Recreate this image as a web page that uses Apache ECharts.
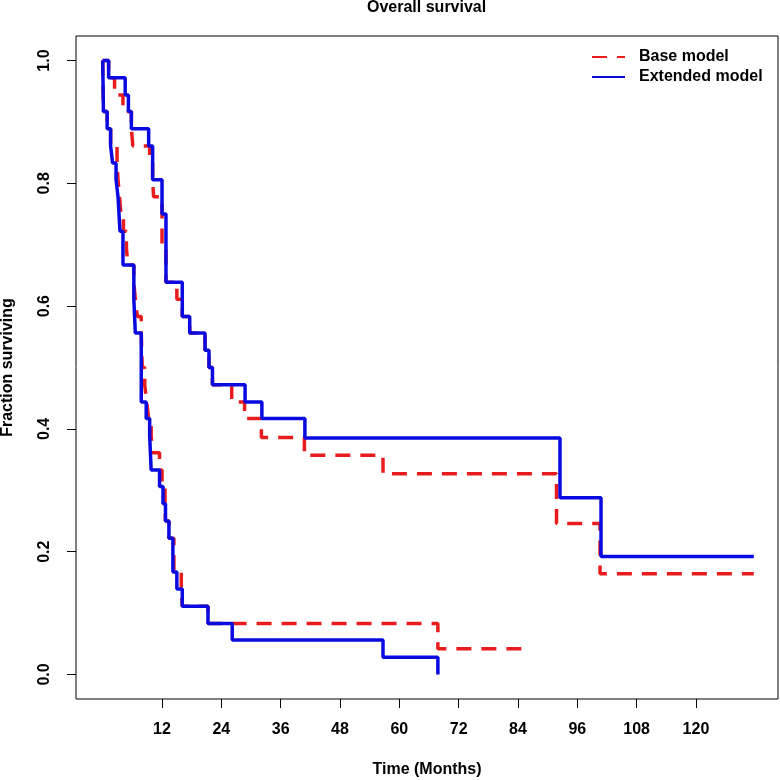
<!DOCTYPE html>
<html>
<head>
<meta charset="utf-8">
<script src="https://cdn.jsdelivr.net/npm/echarts@6/dist/echarts.min.js"></script>
<style>html,body{margin:0;padding:0;background:#fff}#c{width:780px;height:780px}</style>
</head>
<body>
<div id="c"></div>
<script>
// ---- data (months, fraction surviving) ----
var upperBaseT = [0, 1.2, 2.4, 4.1, 5.8, 6.1, 9.5, 10.1, 10.3, 12.0, 12.8, 15.0, 16.1, 17.6, 20.7, 21.5, 22.2, 26.1, 28.7, 32.1, 40.8, 56.7, 91.8, 100.6, 131.7];
var upperBaseS = [1.0, 0.972, 0.944, 0.917, 0.889, 0.861, 0.833, 0.806, 0.778, 0.694, 0.639, 0.611, 0.583, 0.556, 0.528, 0.5, 0.472, 0.444, 0.417, 0.386, 0.357, 0.327, 0.246, 0.164, 0.164];

var upperExtT = [0, 1.2, 4.55, 5.2, 5.8, 9.3, 10.1, 12.0, 12.8, 16.1, 17.6, 20.7, 21.5, 22.2, 28.8, 32.2, 40.9, 92.5, 100.8, 131.7];
var upperExtS = [1.0, 0.972, 0.944, 0.917, 0.889, 0.861, 0.806, 0.75, 0.639, 0.583, 0.556, 0.528, 0.5, 0.472, 0.444, 0.417, 0.385, 0.288, 0.192, 0.192];

var lowerBaseT = [0, 0.15, 0.9, 1.6, 2.9, 3.1, 3.4, 3.7, 4.2, 4.8, 5.1, 6.3, 6.6, 7.0, 7.8, 8.0, 8.5, 8.9, 9.3, 9.8, 10.1, 11.5, 12.0, 12.6, 12.7, 13.4, 14.4, 15.9, 16.1, 21.3, 67.8, 86.7];
var lowerBaseS = [1.0, 0.917, 0.889, 0.861, 0.833, 0.806, 0.778, 0.75, 0.722, 0.694, 0.667, 0.639, 0.611, 0.583, 0.556, 0.5, 0.472, 0.444, 0.417, 0.389, 0.361, 0.333, 0.306, 0.278, 0.25, 0.222, 0.167, 0.139, 0.111, 0.083, 0.042, 0.042];

var lowerExtT = [0, 0.15, 0.9, 1.6, 2.0, 2.7, 3.1, 3.5, 4.1, 6.3, 6.6, 7.8, 8.8, 9.5, 9.8, 11.5, 12.2, 12.7, 13.4, 14.2, 15.0, 16.1, 21.3, 26.2, 56.7, 67.8];
var lowerExtS = [1.0, 0.917, 0.889, 0.861, 0.833, 0.806, 0.778, 0.722, 0.667, 0.611, 0.556, 0.444, 0.417, 0.389, 0.333, 0.306, 0.278, 0.25, 0.222, 0.167, 0.139, 0.111, 0.083, 0.056, 0.028, 0.0];

var xTicks = [12, 24, 36, 48, 60, 72, 84, 96, 108, 120];
var yTicks = [0.0, 0.2, 0.4, 0.6, 0.8, 1.0];
var seriesNames = ['Base model', 'Extended model'];

function zip(t, s) { return t.map(function (v, i) { return [v, s[i]]; }); }

var RED = '#e81c1c', BLUE = '#0a0ae0';
var FONT = '"Liberation Sans", Arial, Helvetica, sans-serif';

function baseSeries(data) {
  return { name: seriesNames[0], type: 'line', step: 'end', symbol: 'none', data: data,
    lineStyle: { color: RED, width: 3.5, type: [15, 10], cap: 'butt' }, itemStyle: { color: RED } };
}
function extSeries(data) {
  return { name: seriesNames[1], type: 'line', step: 'end', symbol: 'none', data: data,
    lineStyle: { color: BLUE, width: 3.5, type: 'solid' }, itemStyle: { color: BLUE } };
}

var chart = echarts.init(document.getElementById('c'), null, { renderer: 'canvas' });
chart.setOption({
  animation: false,
  backgroundColor: '#fff',
  title: { text: 'Overall survival', left: 367, top: 0, padding: 0, textAlign: 'left',
    textStyle: { fontFamily: FONT, fontWeight: 'bold', fontSize: 16, color: '#000' } },
  legend: {
    data: seriesNames, orient: 'vertical', left: 591, top: 49, padding: 0,
    itemWidth: 33, itemHeight: 14, itemGap: 4,
    itemStyle: { opacity: 0 },
    textStyle: { fontFamily: FONT, fontWeight: 'bold', fontSize: 16, color: '#000', padding: [0, 0, 0, 9], lineHeight: 16 }
  },
  grid: { left: 76, right: 2, top: 36, bottom: 81, show: true, borderColor: '#000', borderWidth: 1,
    containLabel: false, outerBoundsMode: 'none' },
  xAxis: {
    type: 'value', min: -5.4, max: 136.6,
    name: 'Time (Months)', nameLocation: 'middle', nameGap: 63,
    nameTextStyle: { fontFamily: FONT, fontWeight: 'bold', fontSize: 16, color: '#000' },
    axisLine: { show: false, onZero: false },
    splitLine: { show: false },
    axisTick: { show: true, inside: false, length: 9, customValues: xTicks, lineStyle: { color: '#000', width: 1 } },
    axisLabel: { customValues: xTicks, margin: 23, fontFamily: FONT, fontWeight: 'bold', fontSize: 16, color: '#000',
      formatter: function (v) { return String(v); } }
  },
  yAxis: {
    type: 'value', min: -0.04, max: 1.04,
    name: 'Fraction surviving', nameLocation: 'middle', nameGap: 60,
    nameTextStyle: { fontFamily: FONT, fontWeight: 'bold', fontSize: 16, color: '#000' },
    axisLine: { show: false, onZero: false },
    splitLine: { show: false },
    axisTick: { show: true, inside: false, length: 9, customValues: yTicks, lineStyle: { color: '#000', width: 1 } },
    axisLabel: { customValues: yTicks, rotate: 90, margin: 23, fontFamily: FONT, fontWeight: 'bold', fontSize: 16, color: '#000',
      formatter: function (v) { return v.toFixed(1); } }
  },
  series: [
    baseSeries(zip(lowerBaseT, lowerBaseS)),
    baseSeries(zip(upperBaseT, upperBaseS)),
    extSeries(zip(upperExtT, upperExtS)),
    extSeries(zip(lowerExtT, lowerExtS))
  ]
});
</script>
</body>
</html>
